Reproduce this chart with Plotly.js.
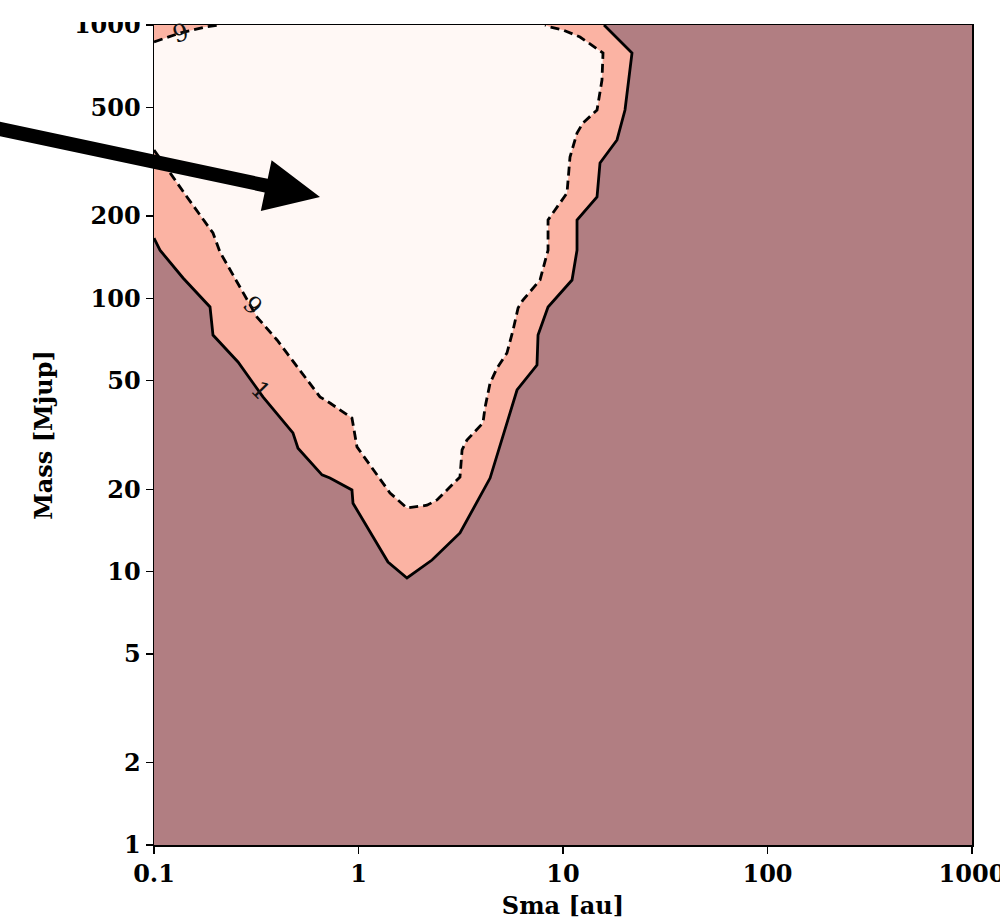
<!DOCTYPE html>
<html>
<head>
<meta charset="utf-8">
<script src="https://cdn.plot.ly/plotly-3.0.1.min.js"></script>
<style>
html,body{margin:0;padding:0;background:#fff;}
#chart{width:1000px;height:924px;}
</style>
</head>
<body>
<div id="chart"></div>
<script>
// ---- data ----
// contour level 0.1 (solid line)
const solidSma  = [0.1, 0.107, 0.1387, 0.1879, 0.1943, 0.2575, 0.305, 0.341, 0.478, 0.506, 0.663, 0.725, 0.929, 0.940, 1.394, 1.726, 2.288, 3.135, 4.40, 5.96, 7.46, 7.55, 8.45, 11.07, 11.71, 11.71, 14.67, 15.17, 18.37, 20.10, 21.75, 16.41, 15.87];
const solidMass = [166, 150, 118.7, 93, 73.4, 58.5, 49, 43.6, 32.2, 28.3, 22.6, 22.0, 19.9, 17.8, 10.85, 9.48, 11.03, 13.85, 22.0, 46.2, 57.0, 73.4, 93, 116.7, 150, 193.5, 234.9, 312.7, 379.6, 488.7, 790, 975, 1000];
// contour level 0.9 (dashed line), main branch
const dashSma  = [0.1, 0.1197, 0.145, 0.1943, 0.2102, 0.319, 0.3995, 0.648, 0.725, 0.929, 0.983, 1.426, 1.726, 2.163, 2.42, 3.135, 3.21, 3.39, 4.06, 4.16, 4.40, 4.76, 5.32, 5.70, 6.03, 6.37, 7.72, 8.45, 8.45, 9.14, 10.46, 10.82, 11.71, 12.52, 14.67, 15.51, 15.69, 12.11, 10.0, 8.64, 8.17];
const dashMass = [349, 287.4, 234.9, 173.4, 147.7, 85.4, 70.4, 43.6, 41.4, 36.5, 28.6, 19.4, 17.1, 17.5, 18.3, 22.2, 27.9, 30.3, 35.0, 40.0, 49.0, 55.6, 63.1, 76.6, 92.2, 98.6, 116.7, 150, 193.5, 210.5, 242.9, 328.9, 402.6, 438, 488.7, 629, 790, 903.8, 959, 983, 1000];
// contour level 0.9 (dashed line), upper-left corner branch
const cornerSma  = [0.1, 0.134, 0.1776, 0.2102];
const cornerMass = [866.8, 934.9, 983, 1000];
// contour labels
const labelText = ["9", "1", "9"];
const labelSma  = [0.3015, 0.33, 0.1355];
const labelMass = [94.5, 46.2, 935];
const labelAngle = [45, 45, -16];
// axes
const xTicks = [0.1, 1, 10, 100, 1000];
const xTickText = ["0.1", "1", "10", "100", "1000"];
const yTicks = [1, 2, 5, 10, 20, 50, 100, 200, 500, 1000];
const yTickText = ["1", "2", "5", "10", "20", "50", "100", "200", "500", "1000"];
const xMin = 0.1, xMax = 1000, yMin = 1, yMax = 1000;

// ---- colours ----
const cLow = '#b17e82', cMid = '#fbb3a3', cHigh = '#fff8f5';

// polygons for filled regions (contour boundaries closed along plot edges)
const midX = solidSma.concat([xMin]);
const midY = solidMass.concat([yMax]);
const highX = dashSma.concat(cornerSma.slice().reverse());
const highY = dashMass.concat(cornerMass.slice().reverse());

const lw = 2.8;
const traces = [
  {x: midX, y: midY, type: 'scatter', mode: 'lines', fill: 'toself', fillcolor: cMid,
   line: {width: 0, color: cMid}, hoverinfo: 'skip', showlegend: false},
  {x: highX, y: highY, type: 'scatter', mode: 'lines', fill: 'toself', fillcolor: cHigh,
   line: {width: 0, color: cHigh}, hoverinfo: 'skip', showlegend: false},
  {x: solidSma, y: solidMass, type: 'scatter', mode: 'lines',
   line: {color: '#000', width: lw}, hoverinfo: 'skip', showlegend: false},
  {x: dashSma, y: dashMass, type: 'scatter', mode: 'lines',
   line: {color: '#000', width: lw, dash: '9px,5px'}, hoverinfo: 'skip', showlegend: false},
  {x: cornerSma, y: cornerMass, type: 'scatter', mode: 'lines',
   line: {color: '#000', width: lw, dash: '9px,5px'}, hoverinfo: 'skip', showlegend: false}
];

// plot area in pixels
const L = 154, R = 972, T = 25, B = 845;
function P(px, py) { return ((px - L) / (R - L)).toFixed(5) + ',' + ((B - py) / (B - T)).toFixed(5); }
const arrowPts = [[-18.5,117.9],[267.7,178.8],[271.6,160.2],[320,197],[260.8,211],[264.7,192.4],[-21.5,131.6]];
const arrowPath = 'M ' + arrowPts.map(p => P(p[0], p[1])).join(' L ') + ' Z';

const tickFont = {family: 'DejaVu Serif', size: 24, color: '#000', weight: 'bold'};
const titleFont = {family: 'DejaVu Serif', size: 24, color: '#000', weight: 'bold'};

const annotations = labelText.map((t, i) => ({
  x: Math.log10(labelSma[i]), y: Math.log10(labelMass[i]), xref: 'x', yref: 'y',
  text: t, showarrow: false, textangle: labelAngle[i],
  font: {family: 'DejaVu Serif', size: 24, color: '#111'}
}));

const layout = {
  width: 1000, height: 924,
  margin: {l: L, r: 1000 - R, t: T, b: 924 - B, pad: 0},
  paper_bgcolor: '#ffffff',
  plot_bgcolor: cLow,
  showlegend: false,
  xaxis: {
    type: 'log', range: [Math.log10(xMin), Math.log10(xMax)],
    tickvals: xTicks, ticktext: xTickText, ticklabeloverflow: 'allow',
    showgrid: false, zeroline: false,
    showline: true, mirror: true, linecolor: '#000', linewidth: 1.5,
    ticks: 'outside', ticklen: 7, tickwidth: 1.3, tickcolor: '#000',
    tickfont: tickFont,
    title: {text: 'Sma [au]', font: titleFont, standoff: 10}
  },
  yaxis: {
    type: 'log', range: [Math.log10(yMin), Math.log10(yMax)],
    tickvals: yTicks, ticktext: yTickText, ticklabeloverflow: 'allow',
    showgrid: false, zeroline: false,
    showline: true, mirror: true, linecolor: '#000', linewidth: 1.5,
    ticks: 'outside', ticklen: 7, tickwidth: 1.3, tickcolor: '#000',
    tickfont: tickFont,
    title: {text: 'Mass [Mjup]', font: titleFont, standoff: 14}
  },
  annotations: annotations,
  shapes: [
    {type: 'path', xref: 'paper', yref: 'paper', path: arrowPath,
     fillcolor: '#000', line: {width: 0}, layer: 'above'},
    {type: 'rect', xref: 'paper', yref: 'paper',
     x0: (0 - L) / (R - L), x1: (1000 - L) / (R - L),
     y0: (B - 22) / (B - T), y1: (B + 0) / (B - T) + 0.05,
     fillcolor: '#ffffff', line: {width: 0}, layer: 'above'}
  ]
};

Plotly.newPlot('chart', traces, layout, {displayModeBar: false, staticPlot: true});
</script>
</body>
</html>
